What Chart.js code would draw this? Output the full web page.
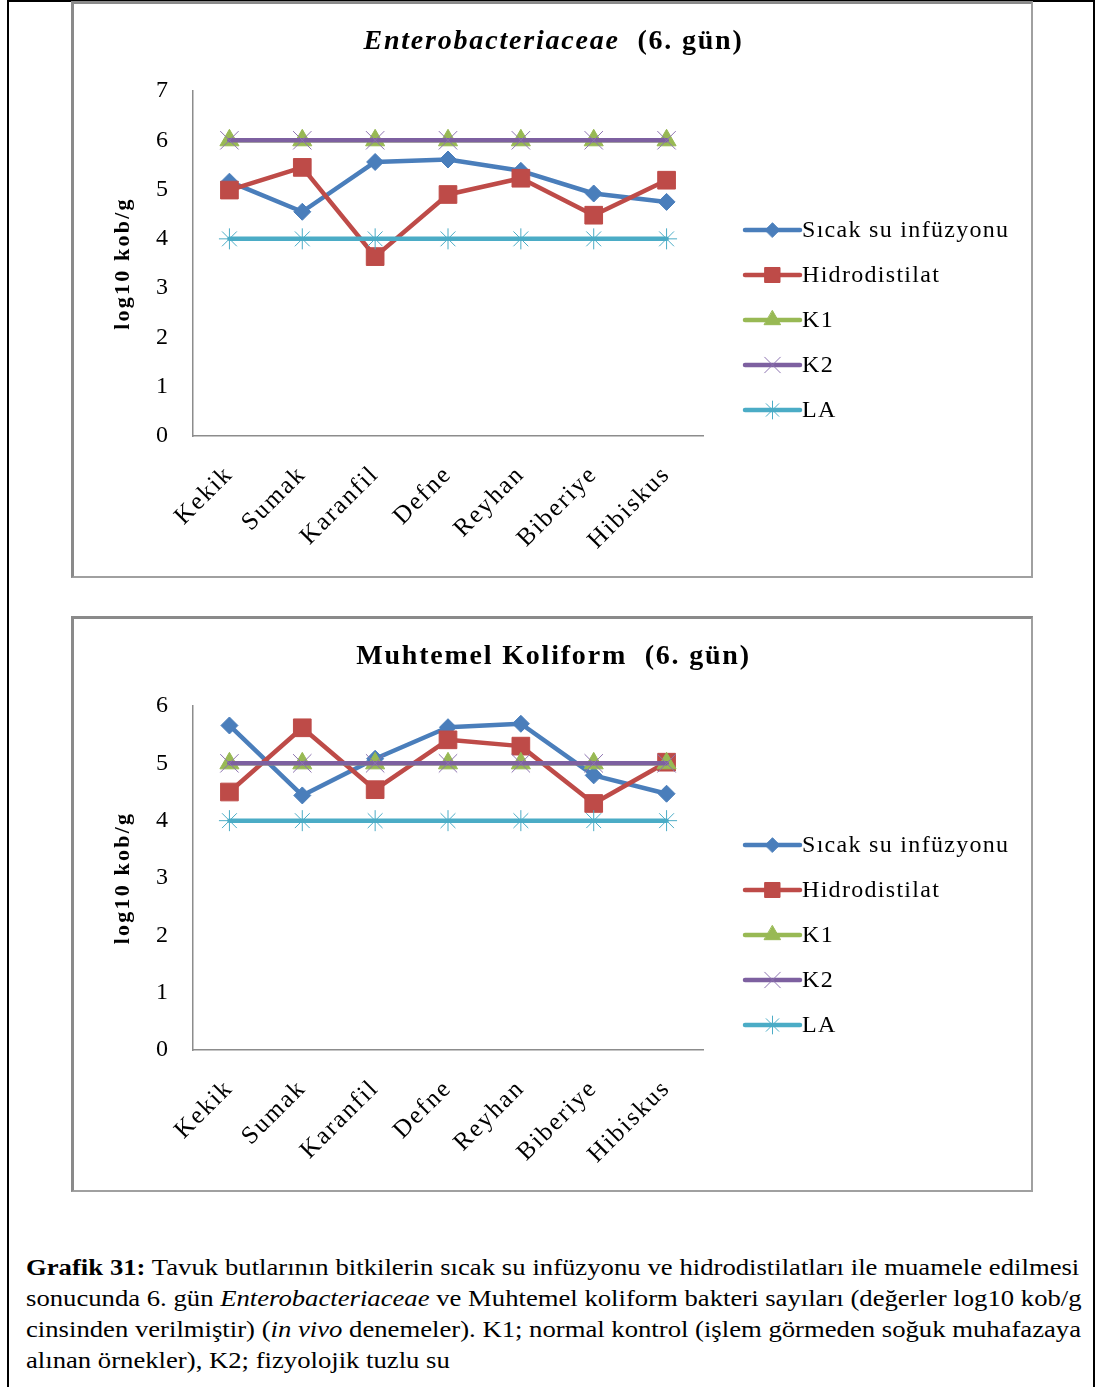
<!DOCTYPE html>
<html lang="tr">
<head>
<meta charset="utf-8">
<title>Grafik 31</title>
<script src="https://cdn.jsdelivr.net/npm/chart.js@4.4.1/dist/chart.umd.min.js"></script>
<style>
  html, body { margin: 0; padding: 0; background: #fff; }
  body { width: 1097px; height: 1387px; position: relative; overflow: hidden;
         font-family: "Liberation Serif", "Times New Roman", serif; color: #000; }
  .page { position: absolute; left: 7px; top: 0; width: 1088px; height: 1400px;
          border: 2px solid #000; border-bottom: none; box-sizing: border-box; }
  .box { position: absolute; left: 71px; width: 962px; box-sizing: border-box; background: #fff;
         border-style: solid; border-color: #8a8a8a #a0a0a0 #a0a0a0 #8a8a8a;
         border-width: 3px 2px 2px 3px; }
  .box canvas { position: absolute; left: 0; top: 0; }
  .title { position: absolute; left: 0; right: 0; top: 20px; text-align: center;
           font-size: 28px; line-height: 32px; font-weight: bold; letter-spacing: 1.8px;
           white-space: nowrap; padding-left: 2px; }
  .caption { position: absolute; left: 26px; top: 1252px; width: 908px;
             font-size: 23px; line-height: 31px;
             transform: scaleX(1.16); transform-origin: 0 0; }
  .caption div { white-space: nowrap; }
  .caption .j { text-align: justify; text-align-last: justify; }
</style>
</head>
<body>
<div class="page"></div>

<div class="box" style="top:1px;height:577px;">
  <canvas id="entChart"></canvas>
  <div class="title"><i>Enterobacteriaceae</i>&nbsp; (6. gün)</div>
</div>

<div class="box" style="top:616px;height:576px;">
  <canvas id="kolChart"></canvas>
  <div class="title">Muhtemel Koliform&nbsp; (6. gün)</div>
</div>

<div class="caption">
  <div class="j"><b>Grafik 31:</b> Tavuk butlarının bitkilerin sıcak su infüzyonu ve hidrodistilatları ile muamele edilmesi</div>
  <div class="j">sonucunda 6. gün <i>Enterobacteriaceae</i> ve Muhtemel koliform bakteri sayıları (değerler log10 kob/g</div>
  <div class="j">cinsinden verilmiştir) (<i>in vivo</i> denemeler). K1; normal kontrol (işlem görmeden soğuk muhafazaya</div>
  <div>alınan örnekler), K2; fizyolojik tuzlu su</div>
</div>

<script>
// Plants on the x axis
const categories = ['Kekik', 'Sumak', 'Karanfil', 'Defne', 'Reyhan', 'Biberiye', 'Hibiskus'];
const seriesNames = ['Sıcak su infüzyonu', 'Hidrodistilat', 'K1', 'K2', 'LA'];
const yAxisTitle = 'log10 kob/g';

// Enterobacteriaceae, day 6 (log10 kob/g)
const entSicakSu       = [5.16, 4.55, 5.56, 5.61, 5.38, 4.92, 4.75];
const entHidrodistilat = [4.99, 5.45, 3.64, 4.90, 5.23, 4.48, 5.19];
const entK1            = [6, 6, 6, 6, 6, 6, 6];
const entK2            = [6, 6, 6, 6, 6, 6, 6];
const entLA            = [4, 4, 4, 4, 4, 4, 4];
const entTicks         = [0, 1, 2, 3, 4, 5, 6, 7];

// Presumptive coliforms, day 6 (log10 kob/g)
const kolSicakSu       = [5.66, 4.44, 5.08, 5.63, 5.69, 4.79, 4.47];
const kolHidrodistilat = [4.50, 5.62, 4.54, 5.41, 5.30, 4.30, 5.02];
const kolK1            = [5, 5, 5, 5, 5, 5, 5];
const kolK2            = [5, 5, 5, 5, 5, 5, 5];
const kolLA            = [4, 4, 4, 4, 4, 4, 4];
const kolTicks         = [0, 1, 2, 3, 4, 5, 6];

// Line and marker look of each series
const seriesStyles = [
  { color: '#4A7EBB', marker: '#4A7EBB', pointStyle: 'rectRot',  radius: 8.5,  markerWidth: 1 },
  { color: '#BE4B48', marker: '#BE4B48', pointStyle: 'rect',     radius: 12.5, markerWidth: 1 },
  { color: '#98B954', marker: '#98B954', pointStyle: 'triangle', radius: 11,   markerWidth: 1 },
  { color: '#7D60A0', marker: '#8C72B0', pointStyle: 'crossRot', radius: 13,   markerWidth: 1 },
  { color: '#4BACC6', marker: '#4BACC6', pointStyle: 'star',     radius: 10.5, markerWidth: 1 }
];

const SERIF = '"Liberation Serif", "Times New Roman", serif';

function buildDatasets(valueLists) {
  return valueLists.map((values, i) => {
    const s = seriesStyles[i];
    return {
      label: seriesNames[i],
      data: values,
      borderColor: s.color,
      backgroundColor: s.color,
      borderWidth: 4.5,
      borderCapStyle: 'round',
      borderJoinStyle: 'round',
      tension: 0,
      pointStyle: s.pointStyle,
      pointRadius: s.radius,
      pointHoverRadius: s.radius,
      pointBackgroundColor: s.marker,
      pointBorderColor: s.marker,
      pointBorderWidth: s.markerWidth,
      order: valueLists.length - i
    };
  });
}

// Draws the rotated y-axis title and the line+marker legend on the right
const decorPlugin = {
  id: 'decor',
  beforeDraw(chart) {
    chart.ctx.letterSpacing = '2px';
  },
  afterDraw(chart, args, opts) {
    const ctx = chart.ctx;
    const area = chart.chartArea;

    ctx.save();
    ctx.letterSpacing = '2.2px';
    ctx.font = 'bold 22px ' + SERIF;
    ctx.fillStyle = '#000';
    ctx.textAlign = 'center';
    ctx.textBaseline = 'middle';
    ctx.translate(opts.titleX, (area.top + area.bottom) / 2);
    ctx.rotate(-Math.PI / 2);
    ctx.fillText(yAxisTitle, 0, 0);
    ctx.restore();

    chart.data.datasets.forEach((ds, i) => {
      const s = seriesStyles[i];
      const y = opts.legendTop + i * opts.legendStep;
      const x0 = opts.legendX, x1 = opts.legendX + opts.sampleWidth;
      ctx.save();
      ctx.strokeStyle = s.color;
      ctx.lineWidth = 4.5;
      ctx.lineCap = 'round';
      ctx.beginPath();
      ctx.moveTo(x0, y);
      ctx.lineTo(x1, y);
      ctx.stroke();
      ctx.fillStyle = s.marker;
      ctx.strokeStyle = s.marker;
      ctx.lineWidth = s.markerWidth;
      Chart.helpers.drawPoint(ctx, {
        pointStyle: s.pointStyle,
        radius: s.radius * 0.85,
        borderWidth: s.markerWidth,
        rotation: 0
      }, (x0 + x1) / 2, y);
      ctx.letterSpacing = '1.3px';
      ctx.font = '24px ' + SERIF;
      ctx.fillStyle = '#000';
      ctx.textAlign = 'left';
      ctx.textBaseline = 'middle';
      ctx.fillText(ds.label, x1 + 2, y + 1);
      ctx.restore();
    });
  }
};

function makeChart(canvasId, valueLists, ticks) {
  const canvas = document.getElementById(canvasId);
  return new Chart(canvas, {
    type: 'line',
    data: { labels: categories, datasets: buildDatasets(valueLists) },
    plugins: [decorPlugin],
    options: {
      responsive: false,
      animation: false,
      devicePixelRatio: 1,
      layout: { padding: { left: 0, right: 328, top: 87, bottom: 0 } },
      plugins: {
        legend: { display: false },
        tooltip: { enabled: false },
        title: { display: false },
        decor: { titleX: 49, legendX: 671, sampleWidth: 55, legendTop: 226, legendStep: 45 }
      },
      scales: {
        x: {
          type: 'category',
          offset: true,
          grid: { display: false, drawTicks: false },
          border: { display: true, color: '#8c8c8c', width: 1.5 },
          ticks: {
            autoSkip: false,
            minRotation: 45,
            maxRotation: 45,
            padding: 24,
            color: '#000',
            font: { family: SERIF, size: 25 }
          },
          afterFit(scale) { scale.height = 140; }
        },
        y: {
          min: ticks[0],
          max: ticks[ticks.length - 1],
          grid: { display: false, drawTicks: false },
          border: { display: true, color: '#8c8c8c', width: 1.5 },
          afterBuildTicks(scale) { scale.ticks = ticks.map(v => ({ value: v })); },
          ticks: {
            padding: 23,
            color: '#000',
            font: { family: SERIF, size: 24 }
          },
          afterFit(scale) { scale.width = 119; }
        }
      }
    }
  });
}

function sizeCanvas(id, w, h) {
  const c = document.getElementById(id);
  c.width = w; c.height = h;
  c.style.width = w + 'px'; c.style.height = h + 'px';
}

sizeCanvas('entChart', 957, 572);
sizeCanvas('kolChart', 957, 571);
makeChart('entChart', [entSicakSu, entHidrodistilat, entK1, entK2, entLA], entTicks);
makeChart('kolChart', [kolSicakSu, kolHidrodistilat, kolK1, kolK2, kolLA], kolTicks);
</script>
</body>
</html>
